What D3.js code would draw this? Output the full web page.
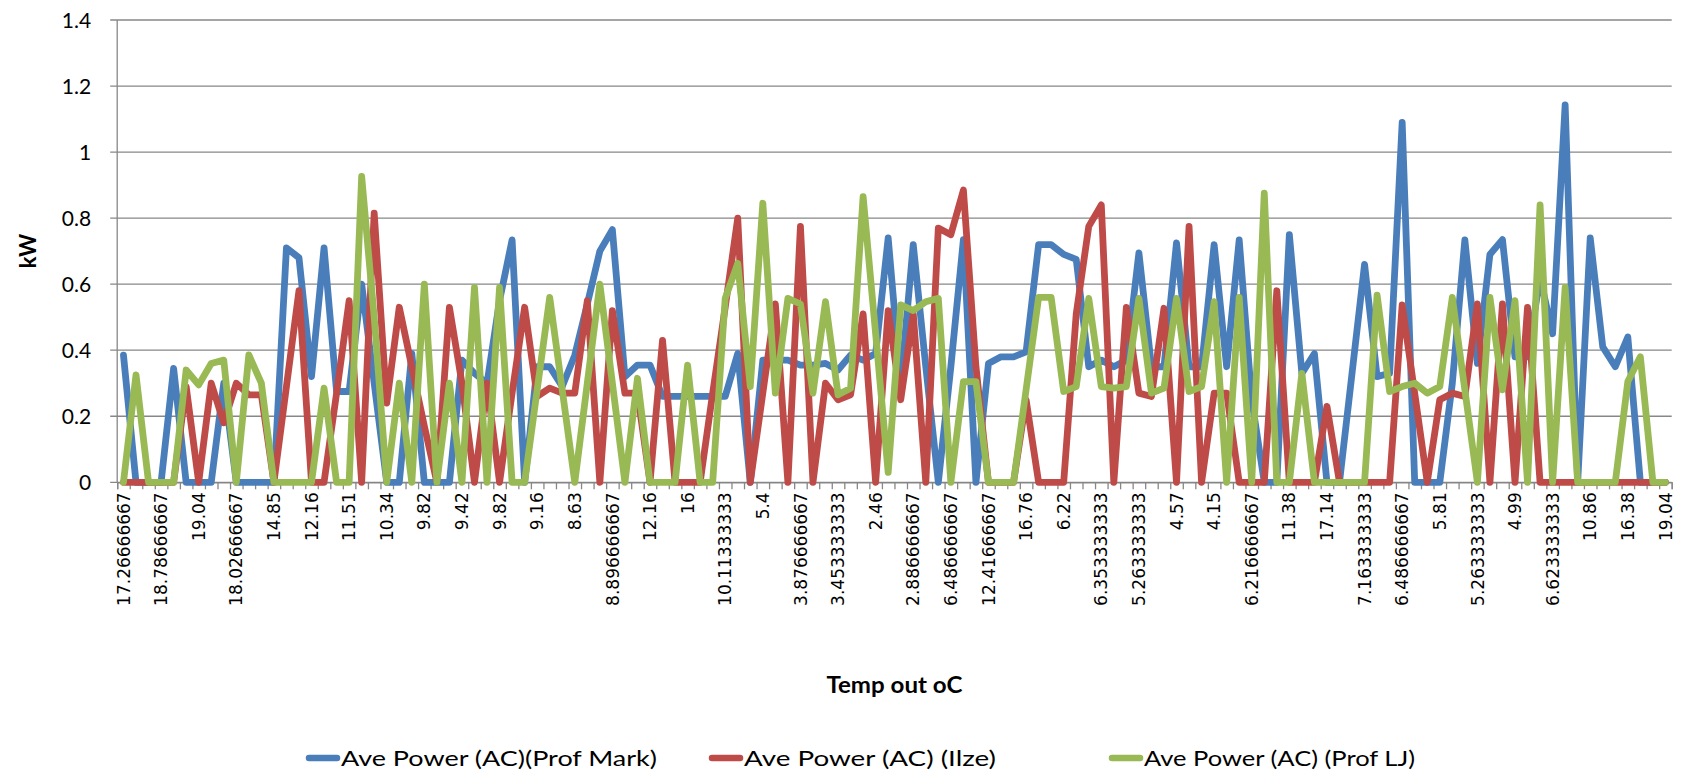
<!DOCTYPE html>
<html>
<head>
<meta charset="utf-8">
<script src="https://cdn.jsdelivr.net/npm/d3@7"></script>
<style>
  html, body { margin: 0; padding: 0; background: #fff; }
  svg { display: block; }
</style>
</head>
<body>
<svg id="chart" width="1688" height="773"></svg>
<script>
// ---------------- DATA ----------------
const tickLabels = ["17.26666667","18.78666667","19.04","18.02666667","14.85","12.16","11.51","10.34","9.82","9.42","9.82","9.16","8.63","8.896666667","12.16","16","10.11333333","5.4","3.876666667","3.453333333","2.46","2.886666667","6.486666667","12.41666667","16.76","6.22","6.353333333","5.263333333","4.57","4.15","6.216666667","11.38","17.14","7.163333333","6.486666667","5.81","5.263333333","4.99","6.623333333","10.86","16.38","19.04"];
const labelEvery = 3;
const seriesNames = ["Ave Power (AC)(Prof Mark)", "Ave Power (AC) (Ilze)", "Ave Power (AC) (Prof LJ)"];
const seriesColors = ["#4A7EBB", "#BE4B48", "#98B954"];

const profMark = [0.385,0,0,0,0.345,0,0,0,0.3,0,0,0,0,0.71,0.68,0.32,0.71,0.275,0.275,0.6,
  0.3,0,0,0.39,0,0,0,0.37,0.33,0.3,0.55,0.734,0,0.35,0.35,0.29,0.385,0.54,0.70,0.765,
  0.32,0.355,0.355,0.26,0.26,0.26,0.26,0.26,0.26,0.39,0,0.37,0.37,0.37,0.355,0.355,0.36,0.34,0.385,0.37,
  0.39,0.74,0.3,0.72,0.35,0,0.35,0.735,0,0.36,0.38,0.38,0.395,0.72,0.72,0.69,0.675,0.35,0.37,0.35,
  0.37,0.695,0.35,0.35,0.725,0.35,0.35,0.72,0.35,0.734,0.25,0,0,0.75,0.33,0.39,0,0,0.33,0.66,
  0.32,0.33,1.09,0,0,0,0.3,0.734,0.36,0.69,0.735,0.38,0.38,0.62,0.45,1.143,0,0.74,0.41,0.35,
  0.44,0,0,0];
const ilze = [0,0,0,0,0,0.29,0,0.30,0.18,0.30,0.265,0.265,0,0.29,0.58,0,0,0.27,0.55,0,
  0.815,0.24,0.53,0.35,0.17,0,0.53,0.3,0,0.30,0,0.27,0.53,0.26,0.285,0.27,0.27,0.55,0,0.52,
  0.27,0.27,0,0.43,0,0,0,0.27,0.53,0.80,0,0.27,0.54,0,0.775,0,0.3,0.25,0.265,0.51,
  0,0.52,0.25,0.51,0,0.77,0.75,0.885,0.35,0,0,0,0.25,0,0,0,0.51,0.775,0.84,0,
  0.53,0.27,0.26,0.527,0,0.775,0,0.27,0.27,0,0,0,0.58,0,0,0,0.23,0,0,0,
  0,0,0.537,0.27,0,0.25,0.27,0.26,0.54,0,0.54,0,0.53,0,0,0,0,0,0,0,
  0,0,0,0];
const profLJ = [0,0.325,0,0,0,0.34,0.295,0.36,0.37,0,0.386,0.30,0,0,0,0,0.285,0,0,0.926,
  0.5,0,0.30,0,0.6,0,0.30,0,0.59,0,0.59,0,0,0.28,0.56,0.28,0,0.3,0.6,0.3,
  0,0.315,0,0,0,0.355,0,0,0.557,0.663,0.29,0.845,0.27,0.557,0.54,0.27,0.547,0.265,0.285,0.865,
  0.45,0.03,0.537,0.52,0.547,0.557,0,0.305,0.305,0,0,0,0.28,0.56,0.56,0.275,0.29,0.557,0.29,0.285,
  0.29,0.557,0.27,0.285,0.557,0.275,0.29,0.547,0,0.56,0,0.876,0,0,0.33,0,0,0,0,0,
  0.567,0.275,0.29,0.30,0.27,0.29,0.56,0.28,0,0.56,0.28,0.55,0,0.84,0,0.59,0,0,0,0,
  0.305,0.38,0,0];
const yTicks = [0, 0.2, 0.4, 0.6, 0.8, 1, 1.2, 1.4];
const xTitle = "Temp out oC";
const yTitle = "kW";

// ---------------- LAYOUT ----------------
const plot = { left: 117.2, right: 1671.7, top: 20, bottom: 482.3 };
const allSeries = [profMark, ilze, profLJ];
const categories = d3.range(profMark.length);

const svg = d3.select("#chart");
const x = d3.scaleBand().domain(categories).range([plot.left, plot.right]).padding(0);
const xEdge = d3.scaleLinear().domain([0, categories.length]).range([plot.left, plot.right]);
const y = d3.scaleLinear().domain([0, 1.4]).range([plot.bottom, plot.top]);

const gridColor = "#878787";

// gridlines
svg.append("g")
  .selectAll("line").data(yTicks).join("line")
  .attr("x1", plot.left - 7).attr("x2", plot.right)
  .attr("y1", d => y(d)).attr("y2", d => y(d))
  .attr("stroke", gridColor).attr("stroke-width", 1.3);

// y axis line
svg.append("line")
  .attr("x1", plot.left).attr("x2", plot.left)
  .attr("y1", plot.top).attr("y2", plot.bottom)
  .attr("stroke", gridColor).attr("stroke-width", 1.3);

// y tick labels
const yAxis = d3.axisLeft(y).tickValues(yTicks).tickSize(0).tickPadding(0)
  .tickFormat(d => String(+d.toFixed(1)));
const gy = svg.append("g").attr("transform", `translate(${plot.left - 26},0)`).call(yAxis);
gy.select(".domain").remove();
gy.selectAll("text").attr("font-family", "Lato, 'Open Sans', sans-serif")
  .attr("font-size", 21).attr("fill", "#000").attr("dy", "0.36em");

// x tick marks at category boundaries
const xTickAxis = d3.axisBottom(xEdge).tickValues(d3.range(categories.length + 1))
  .tickSize(7).tickFormat("");
const gxt = svg.append("g").attr("transform", `translate(0,${plot.bottom})`).call(xTickAxis);
gxt.select(".domain").attr("stroke", gridColor).attr("stroke-width", 1.3);
gxt.selectAll(".tick line").attr("stroke", gridColor).attr("stroke-width", 1.3);

// x tick labels
const xAxis = d3.axisBottom(x)
  .tickValues(categories.filter(i => i % labelEvery === 0))
  .tickSize(0).tickPadding(0)
  .tickFormat(i => tickLabels[i / labelEvery]);
const gx = svg.append("g").attr("transform", `translate(0,${plot.bottom + 10})`).call(xAxis);
gx.select(".domain").remove();
gx.selectAll("text")
  .attr("font-family", "'DejaVu Sans', sans-serif").attr("font-size", 17).attr("fill", "#000")
  .attr("transform", "rotate(-90)")
  .attr("text-anchor", "end")
  .attr("x", 0).attr("y", 0).attr("dx", 0).attr("dy", "0.36em");

// series lines
const line = d3.line()
  .x((d, i) => x(i) + x.bandwidth() / 2)
  .y(d => y(d));
svg.append("g").selectAll("path").data(allSeries).join("path")
  .attr("d", d => line(d))
  .attr("fill", "none")
  .attr("stroke", (d, i) => seriesColors[i])
  .attr("stroke-width", 6.8)
  .attr("stroke-linejoin", "round")
  .attr("stroke-linecap", "round");

// axis titles
svg.append("text")
  .attr("x", (plot.left + plot.right) / 2).attr("y", 693)
  .attr("text-anchor", "middle")
  .attr("font-family", "Lato, sans-serif").attr("font-weight", "bold").attr("font-size", 22)
  .attr("textLength", 136).attr("lengthAdjust", "spacingAndGlyphs")
  .text(xTitle);
svg.append("text")
  .attr("transform", `translate(36,${(plot.top + plot.bottom) / 2}) rotate(-90)`)
  .attr("text-anchor", "middle")
  .attr("font-family", "Lato, sans-serif").attr("font-weight", "bold").attr("font-size", 22)
  .text(yTitle);

// legend
const legendX = [309, 712, 1112];
const legendW = [316, 252, 271];
const legendY = 758;
const lg = svg.append("g");
seriesNames.forEach((name, i) => {
  lg.append("line")
    .attr("x1", legendX[i]).attr("x2", legendX[i] + 28)
    .attr("y1", legendY).attr("y2", legendY)
    .attr("stroke", seriesColors[i]).attr("stroke-width", 6.5).attr("stroke-linecap", "round");
  lg.append("text")
    .attr("x", legendX[i] + 32).attr("y", legendY).attr("dy", "0.36em")
    .attr("font-family", "Lato, sans-serif").attr("font-size", 22)
    .attr("textLength", legendW[i]).attr("lengthAdjust", "spacingAndGlyphs")
    .text(name);
});
</script>
</body>
</html>
